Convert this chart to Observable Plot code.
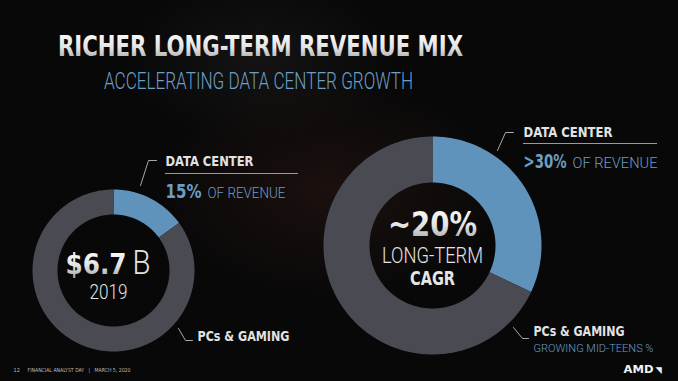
<!DOCTYPE html>
<html>
<head>
<meta charset="utf-8">
<script src="https://cdn.jsdelivr.net/npm/d3@7"></script>
<script src="https://cdn.jsdelivr.net/npm/@observablehq/plot@0.6"></script>
<style>
  html, body { margin: 0; padding: 0; }
  body {
    width: 678px; height: 381px; overflow: hidden;
    background:
      radial-gradient(ellipse 260px 160px at 330px 190px, rgba(70,35,30,0.30), rgba(0,0,0,0) 70%),
      radial-gradient(ellipse 200px 120px at 260px 60px, rgba(45,40,40,0.35), rgba(0,0,0,0) 70%),
      #080808;
  }
  #chart svg { display: block; }
</style>
</head>
<body>
<div id="chart"></div>
<script>
// ---- data ----
const categories = ["Data Center", "PCs & Gaming"];
const values2019 = [15, 85];          // % of revenue, 2019 ($6.7B)
const valuesLongTerm = [32, 68];      // % of revenue, long-term (>30% data center)
const title = "RICHER LONG-TERM REVENUE MIX";
const subtitle = "ACCELERATING DATA CENTER GROWTH";
const footer = "FINANCIAL ANALYST DAY   |   MARCH 5, 2020";

// ---- layout (pixels) ----
const W = 678, H = 381;
const donuts = [
  {id: "2019", values: values2019, cx: 113, cy: 270, R: 81, r: 56},
  {id: "lt", values: valuesLongTerm, cx: 432, cy: 245, R: 109, r: 63}
];
const BLUE = "#5f93bc", GREY = "#4a4b52", TXTBLUE = "#6c9ec6";
const BOLD = "DejaVu Sans Condensed, DejaVu Sans, sans-serif";
const NARROW = "Liberation Sans Narrow, DejaVu Sans Condensed, sans-serif";
const LIGHT = "Roboto, DejaVu Sans Condensed, sans-serif";

// build slice polygons with d3.pie
const slices = [];
for (const dn of donuts) {
  const data = categories.map((c, i) => ({category: c, value: dn.values[i]}));
  const arcs = d3.pie().sort(null).value(d => d.value)(data);
  for (const a of arcs) {
    const key = dn.id + "-" + a.data.category;
    const n = Math.max(8, Math.ceil((a.endAngle - a.startAngle) * 60));
    for (let k = 0; k <= n; k++) {
      const t = a.startAngle + (a.endAngle - a.startAngle) * k / n;
      slices.push({key, category: a.data.category, x: dn.cx + dn.R * Math.sin(t), y: dn.cy - dn.R * Math.cos(t)});
    }
    for (let k = n; k >= 0; k--) {
      const t = a.startAngle + (a.endAngle - a.startAngle) * k / n;
      slices.push({key, category: a.data.category, x: dn.cx + dn.r * Math.sin(t), y: dn.cy - dn.r * Math.cos(t)});
    }
  }
}

// simple labels
const boldLabels = [
  {t: "DATA CENTER", x: 165, y: 165, s: 13.5, a: "start", f: "#e2e2e2", w: 88},
  {t: "PCs & GAMING", x: 197, y: 340, s: 14, a: "start", f: "#e2e2e2", w: 92},
  {t: "DATA CENTER", x: 523, y: 136, s: 13.5, a: "start", f: "#e2e2e2", w: 89},
  {t: "PCs & GAMING", x: 533, y: 335, s: 14, a: "start", f: "#e2e2e2", w: 91},
  {t: "CAGR", x: 432, y: 284, s: 19, a: "middle", f: "#e6e6e6", w: 45}
];
const lightLabels = [
  {t: "GROWING MID-TEENS %", x: 533, y: 351, s: 11.5, a: "start", f: TXTBLUE, w: 120},
  {t: "2019", x: 108, y: 298, s: 21, a: "middle", f: "#e4e4e4", w: 38},
  {t: "LONG-TERM", x: 432, y: 262, s: 22, a: "middle", f: "#e4e4e4", w: 101}
];
const heroBold = [
  {t: "~20%", x: 432, y: 235, s: 34, a: "middle", w: 89}
];
// mixed-style labels: separate runs placed side by side
const runs = [
  {t: "15%", x: 165, y: 197, s: 19, b: true, f: TXTBLUE, w: 36},
  {t: "OF REVENUE", x: 207, y: 197, s: 15, b: false, f: TXTBLUE, w: 78},
  {t: ">30%", x: 523, y: 167, s: 19, b: true, f: TXTBLUE, w: 43},
  {t: "OF REVENUE", x: 572, y: 167, s: 15, b: false, f: TXTBLUE, w: 85},
  {t: "$6.7", x: 65, y: 273, s: 29, b: true, f: "url(#silver)", w: 61},
  {t: "B", x: 132, y: 273, s: 33, b: false, f: "#e4e4e4", w: 18}
];
// annotation leader lines and rules
const leaders = [
  {k: "l1", pts: [[140, 185], [148, 160], [156, 160]]},
  {k: "l2", pts: [[178, 328], [185, 340], [192, 340]]},
  {k: "l3", pts: [[497, 150], [505, 132], [513, 132]]},
  {k: "l4", pts: [[513, 327], [522, 338], [528, 338]]}
].flatMap(l => l.pts.map(([x, y]) => ({k: l.k, x, y})));
const rules = [
  {x1: 165, x2: 298, y: 173},
  {x1: 523, x2: 657, y: 143}
];

const defs = () => {
  const ns = "http://www.w3.org/2000/svg";
  const d = document.createElementNS(ns, "defs");
  d.innerHTML = `<linearGradient id="silver" x1="0" y1="0" x2="0" y2="1">
      <stop offset="0" stop-color="#ffffff"/><stop offset="0.55" stop-color="#e4e4e4"/><stop offset="1" stop-color="#9c9c9c"/>
    </linearGradient>`;
  return d;
};

const plot = Plot.plot({
  width: W, height: H, margin: 0,
  x: {domain: [0, W], range: [0, W], axis: null},
  y: {domain: [0, H], range: [0, H], axis: null},
  color: {domain: categories, range: [BLUE, GREY]},
  style: {background: "transparent", overflow: "visible"},
  marks: [
    defs,
    Plot.line(slices, {x: "x", y: "y", z: "key", fill: "category", stroke: "none", curve: "linear-closed"}),
    Plot.line(leaders, {x: "x", y: "y", z: "k", stroke: "#a8a8a8", strokeWidth: 1}),
    Plot.ruleY(rules, {x1: "x1", x2: "x2", y: "y", stroke: "#9a9a9a", strokeWidth: 1}),
    Plot.text([title], {x: 260, y: 55, text: d => d, fontSize: 28, fontWeight: "bold", fontFamily: BOLD, fill: "url(#silver)", lineAnchor: "bottom"}),
    Plot.text([subtitle], {x: 258, y: 88, text: d => d, fontSize: 23, fontWeight: 300, fontFamily: LIGHT, fill: TXTBLUE, lineAnchor: "bottom"}),
    Plot.text(boldLabels, {x: "x", y: "y", text: "t", fontSize: 14, textAnchor: "start", fill: "#e2e2e2", fontWeight: "bold", fontFamily: BOLD, lineAnchor: "bottom"}),
    Plot.text(lightLabels, {x: "x", y: "y", text: "t", fontSize: 15, textAnchor: "start", fill: TXTBLUE, fontWeight: 300, fontFamily: LIGHT, lineAnchor: "bottom"}),
    Plot.text(heroBold, {x: "x", y: "y", text: "t", fontSize: 34, textAnchor: "middle", fill: "url(#silver)", fontWeight: "bold", fontFamily: BOLD, lineAnchor: "bottom"}),
    Plot.text(runs.filter(d => d.b), {x: "x", y: "y", text: "t", fontSize: 19, textAnchor: "start", fill: TXTBLUE, fontWeight: "bold", fontFamily: NARROW, lineAnchor: "bottom"}),
    Plot.text(runs.filter(d => !d.b), {x: "x", y: "y", text: "t", fontSize: 15, textAnchor: "start", fill: TXTBLUE, fontWeight: 300, fontFamily: LIGHT, lineAnchor: "bottom"}),
    Plot.text(["12"], {x: 13, y: 371, text: d => d, fontSize: 5.5, fill: "#bdbdbd", fontFamily: BOLD, textAnchor: "start", lineAnchor: "bottom"}),
    Plot.text([footer], {x: 27, y: 371, text: d => d, fontSize: 5.5, fill: "#bdbdbd", fontFamily: BOLD, textAnchor: "start", lineAnchor: "bottom"}),
    Plot.text(["AMD"], {x: 653, y: 372, text: d => d, fontSize: 10.5, fontWeight: "bold", fill: "#f2f2f2", fontFamily: BOLD, textAnchor: "end", lineAnchor: "bottom"}),
    Plot.text(["◥"], {x: 655, y: 372, text: d => d, fontSize: 9, fill: "#f2f2f2", fontFamily: BOLD, textAnchor: "start", lineAnchor: "bottom"})
  ]
});

// per-label size / anchor / colour and width fitting
const spec = new Map();
for (const arr of [boldLabels, lightLabels, heroBold, runs]) for (const d of arr) {
  if (!spec.has(d.t)) spec.set(d.t, []);
  spec.get(d.t).push(d);
}
const widths = {[title]: 405, [subtitle]: 309, [footer]: 103, "AMD": 30};
plot.querySelectorAll("text").forEach(el => {
  const t = el.textContent;
  if (widths[t]) { el.setAttribute("textLength", widths[t]); el.setAttribute("lengthAdjust", "spacingAndGlyphs"); }
  const list = spec.get(t);
  if (list && list.length) {
    const d = list.shift();
    el.setAttribute("font-size", d.s);
    el.style.fontSize = d.s + "px";
    if (d.a) el.setAttribute("text-anchor", d.a);
    if (d.f) el.setAttribute("fill", d.f);
    if (d.w) { el.setAttribute("textLength", d.w); el.setAttribute("lengthAdjust", "spacingAndGlyphs"); }
  }
});
document.getElementById("chart").append(plot);
</script>
</body>
</html>
